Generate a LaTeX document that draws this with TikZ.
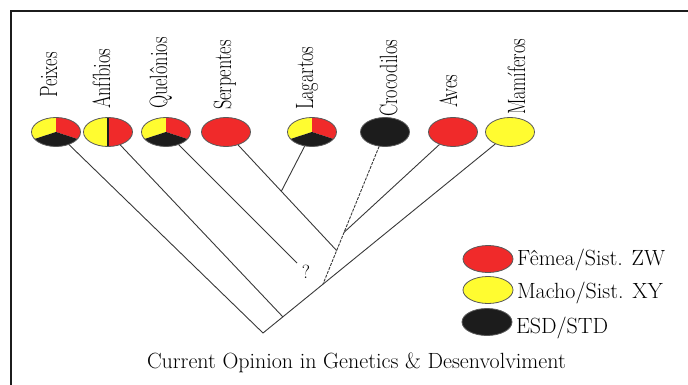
\documentclass[tikz,border=0pt]{standalone}
\usepackage{fontspec}
\usepackage{xcolor}
\usetikzlibrary{positioning,shapes.geometric,calc}

\definecolor{redColor}{RGB}{240,42,42}
\definecolor{yellowColor}{RGB}{255,252,48}
\definecolor{blackColor}{RGB}{28,28,28}
\definecolor{lineColor}{gray}{0.22}
\definecolor{rimColor}{gray}{0.35}

\tikzset{
  taxon/.style={ellipse,draw=rimColor,line width=0.8pt,minimum width=49pt,minimum height=29pt,inner sep=0pt},
  keyblob/.style={ellipse,draw=rimColor,line width=0.8pt,minimum width=50pt,minimum height=27pt,inner sep=0pt},
  tri/.style={path picture={
    \fill[yellowColor] (path picture bounding box.center) -- ++(0pt,40pt) -- ++(-80pt,0pt) -- ++(0pt,-66pt) -- cycle;
    \fill[redColor] (path picture bounding box.center) -- ++(0pt,40pt) -- ++(80pt,0pt) -- ++(0pt,-66pt) -- cycle;
    \fill[blackColor] (path picture bounding box.center) -- ++(-80pt,-26pt) -- ++(0pt,-40pt) -- ++(160pt,0pt) -- ++(0pt,40pt) -- cycle;}},
  halves/.style={path picture={
    \fill[yellowColor] (path picture bounding box.center) ++(-40pt,-30pt) rectangle ++(40pt,60pt);
    \fill[redColor] (path picture bounding box.center) ++(0pt,-30pt) rectangle ++(40pt,60pt);
    \draw[blackColor,line width=1.2pt] (path picture bounding box.center) ++(0pt,-20pt) -- ++(0pt,40pt);}},
  taxlabel/.style={rotate=90,xscale=0.73,anchor=base west,inner sep=0pt,outer sep=0pt,font=\fontsize{25}{30}\selectfont},
  keytext/.style={anchor=base west,inner sep=0pt,outer sep=0pt,font=\fontsize{22}{26}\selectfont},
  branch/.style={draw=lineColor,line width=0.9pt},
  dotbranch/.style={branch,dash pattern=on 3pt off 1.2pt}
}

\begin{document}
\begin{tikzpicture}[x=1pt,y=-1pt]
\useasboundingbox (0,0) rectangle (688,385);

% frame
\draw[line width=2pt,draw=blackColor] (11,385) -- (11,11) -- (688,11);

% taxa
\node[taxon,tri] (peixes) at (56,132) {};
\node[taxon,halves] (anfibios) at (108,132) {};
\node[taxon,tri] (quelonios) at (166,132) {};
\node[taxon,fill=redColor] (serpentes) at (226,132) {};
\node[taxon,tri] (lagartos) at (312,132) {};
\node[taxon,fill=blackColor] (crocodilos) at (385,132) {};
\node[taxon,fill=redColor] (aves) at (453,132) {};
\node[taxon,fill=yellowColor] (mamiferos) at (510,132) {};

\node[taxlabel] (lPeixes) at (57,98) {Peixes};
\node[taxlabel] (lAnfibios) at (110,109) {Anfíbios};
\node[taxlabel] (lQuelonios) at (167,109) {Quelônios};
\node[taxlabel] (lSerpentes) at (231,110) {Serpentes};
\node[taxlabel] (lLagartos) at (313,110) {Lagartos};
\node[taxlabel] (lCrocodilos) at (397,117) {Crocodilos};
\node[taxlabel] (lAves) at (457,108) {Aves};
\node[taxlabel] (lMamiferos) at (525,115) {Mamíferos};

% junctions
\coordinate (root) at (263,333);
\coordinate (jAnf) at (283,317);
\coordinate (jCroc) at (323,284);
\coordinate (jAves) at ($(crocodilos)!0.66!(jCroc)$);
\coordinate (jSerp) at ($(crocodilos)!0.78!(jCroc)$);
\coordinate (jLag) at ($(serpentes)!0.5!(jSerp)$);
\coordinate (qEnd) at (297,263);

% tree
\draw[branch] (peixes) -- (root) -- (mamiferos);
\draw[branch] (anfibios) -- (jAnf);
\draw[branch] (quelonios) -- (qEnd);
\draw[branch] (serpentes) -- (jSerp);
\draw[branch] (lagartos) -- (jLag);
\draw[dotbranch] (crocodilos) -- (jCroc);
\draw[branch] (aves) -- (jAves);
\node[inner sep=0pt,font=\fontsize{19}{22}\selectfont] (qmark) at (306,272) {?};

% key
\node[keyblob,fill=redColor] (kFem) at (488,259) {};
\node[keyblob,fill=yellowColor] (kMac) at (488,290) {};
\node[keyblob,fill=blackColor] (kEsd) at (487,322) {};
\node[keytext] (tFem) at (517,265) {Fêmea/Sist. ZW};
\node[keytext] (tMac) at (517,298) {Macho/Sist. XY};
\node[keytext] (tEsd) at (516,333) {ESD/STD};

\node[keytext] (caption) at (147,368) {Current Opinion in Genetics \& Desenvolviment};
\end{tikzpicture}
\end{document}
